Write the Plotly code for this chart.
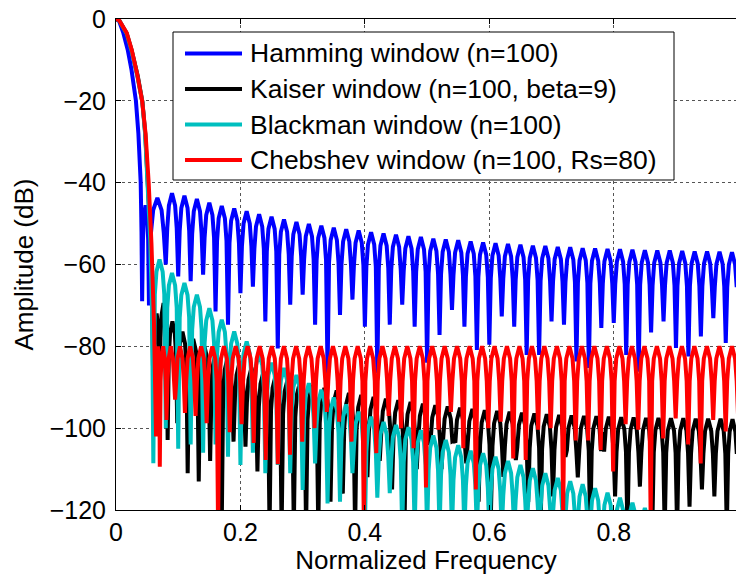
import plotly.graph_objects as go

# ---------------- data ----------------
# Hamming window (n=100)
hamming_main_f = [0, 0.005, 0.0118, 0.0188, 0.025, 0.032, 0.036, 0.0397, 0.041]
hamming_main_db = [0, -0.5, -3.4, -7.5, -12.5, -20, -28, -40, -52]
hamming_null_f = [0.042, 0.053, 0.08, 0.10, 0.12, 0.14, 0.16, 0.18, 0.20, 0.22, 0.24, 0.26,
                  0.28, 0.30, 0.32, 0.34, 0.36, 0.38, 0.40, 0.42, 0.44, 0.46, 0.48, 0.50,
                  0.52, 0.54, 0.56, 0.58, 0.60, 0.62, 0.64, 0.66, 0.68, 0.70, 0.72, 0.74,
                  0.76, 0.78, 0.80, 0.82, 0.84, 0.86, 0.88, 0.90, 0.92, 0.94, 0.96, 0.98, 1.0]
hamming_null_db = [-69, -70, -60, -62.9, -64.1, -62.5, -71.5, -74.7, -67, -65.4, -73.9, -80.5,
                   -69.8, -67.4, -74.7, -86.5, -72.3, -68.6, -75.2, -86.6, -74.7, -69.8, -75.2, -84,
                   -77.2, -71.1, -75.2, -80.9, -79.6, -72.7, -75.2, -82.1, -82.1, -73.9, -74.7, -83.7,
                   -85.3, -75.5, -74.3, -82.1, -86.2, -76.6, -73.9, -80.4, -82.5, -77.6, -73.1, -79.2, -62]
hamming_peak_db = [-45.5, -43.7, -42.6, -43.2, -44.0, -44.9, -45.7, -46.3, -47.0, -47.7, -48.3, -49.0,
                   -49.6, -50.1, -50.5, -51.0, -51.4, -51.7, -52.1, -52.4, -52.7, -53.1, -53.3, -53.7,
                   -53.9, -54.1, -54.4, -54.6, -54.8, -55.0, -55.2, -55.4, -55.5, -55.7, -55.8, -56.0,
                   -56.1, -56.2, -56.3, -56.4, -56.5, -56.6, -56.6, -56.7, -56.8, -56.8, -56.9, -57.0]

# Kaiser window (n=100, beta=9)
kaiser_main_f = [0, 0.005, 0.017, 0.025, 0.035, 0.0425, 0.047, 0.051, 0.055, 0.058]
kaiser_main_db = [0, -0.3, -3.5, -7.6, -14, -20.3, -28, -39, -52, -68]
kaiser_null_f = [0.0607, 0.0699, 0.083, 0.0984, 0.1152, 0.133, 0.1513, 0.1699, 0.1889, 0.2081,
                 0.2273, 0.2468, 0.2662, 0.2858, 0.3055, 0.3251, 0.3448, 0.3645, 0.3843, 0.4041,
                 0.4239, 0.4437, 0.4636, 0.4834, 0.5033, 0.5232, 0.543, 0.5629, 0.5828, 0.6027,
                 0.6226, 0.6426, 0.6625, 0.6824, 0.7023, 0.7223, 0.7422, 0.7622, 0.7821, 0.8021,
                 0.822, 0.842, 0.8619, 0.8819, 0.9018, 0.9218, 0.9417, 0.9617, 0.9817, 1.0]
kaiser_null_db = [-100, -95, -102.9, -98.8, -111, -113, -108, -125, -103.3, -104.5,
                  -110.6, -125, -125, -125, -125, -125, -118, -116, -125, -112,
                  -108, -115, -125, -110, -104, -110, -103, -108.6, -118, -120,
                  -111.9, -107.8, -118, -125, -116.7, -107, -112, -125, -101, -116.7,
                  -125, -114.3, -125, -125, -125, -119.2, -115, -116.7, -125, -98]
kaiser_peak_db = [-72, -69.4, -73.9, -76.4, -78.2, -80, -81.5, -82.8, -84, -85.2,
                  -86.2, -87.2, -88, -88.8, -89.5, -90.2, -90.8, -91.4, -91.9, -92.4,
                  -92.8, -93.2, -93.6, -94, -94.4, -94.7, -95, -95.3, -95.6, -95.8,
                  -96, -96.2, -96.4, -96.6, -96.8, -96.9, -97, -97.1, -97.2, -97.3,
                  -97.4, -97.5, -97.5, -97.6, -97.6, -97.7, -97.7, -97.7, -97.8]

# Blackman window (n=100)
blackman_main_f = [0, 0.005, 0.0172, 0.025, 0.035, 0.0425, 0.047, 0.051, 0.055, 0.058]
blackman_main_db = [0, -0.3, -3.6, -7.8, -14.5, -20.5, -28.5, -40, -54, -72]
blackman_null_f = [0.06, 0.08, 0.10, 0.12, 0.14, 0.16, 0.18, 0.20, 0.22, 0.24, 0.26, 0.28,
                   0.30, 0.32, 0.34, 0.36, 0.38, 0.40, 0.42, 0.44, 0.46, 0.48, 0.50, 0.52,
                   0.54, 0.56, 0.58, 0.60, 0.62, 0.64, 0.66, 0.68, 0.70, 0.72, 0.74, 0.76,
                   0.78, 0.80, 0.82, 0.84, 0.86, 0.88, 0.90]
blackman_null_db = [-108.6, -100, -105, -104, -106, -104, -107, -109, -106, -111, -109, -111,
                    -115.1, -108.6, -118.4, -118, -111, -125, -117, -115.9, -125, -125, -125, -125,
                    -125, -125, -125, -125, -125, -125, -125, -125, -125, -125, -125, -125,
                    -125, -125, -125, -125, -125, -125, -125]
blackman_peak_db = [-58.8, -62.1, -64.5, -67.4, -70.7, -73.5, -76.4, -78.8, -81.6, -84.0, -85.3, -87.0,
                    -89.0, -90.6, -92.5, -94.2, -96.0, -97.2, -98.5, -99.2, -99.8, -100.5, -101.8, -102.9,
                    -104.2, -105.5, -106.1, -107.0, -108.0, -109.0, -109.8, -111.0, -112.2, -113.0, -113.7, -114.7,
                    -115.8, -117.0, -118.2, -119.5, -121.5, -123.5]

# Chebyshev window (n=100, Rs=80)
cheb_main_f = [0, 0.005, 0.0172, 0.0252, 0.034, 0.042, 0.0475, 0.0525, 0.057, 0.061]
cheb_main_db = [0, -0.3, -3.4, -7.5, -13.5, -20, -28, -40, -55, -74]
cheb_null_f = [0.0644, 0.0704, 0.0811, 0.095, 0.1108, 0.1279, 0.1457, 0.1641, 0.1828, 0.2019,
               0.2213, 0.2406, 0.2601, 0.2797, 0.2993, 0.3191, 0.3388, 0.3586, 0.3785, 0.3984,
               0.4183, 0.4382, 0.4582, 0.4782, 0.4982, 0.5182, 0.5382, 0.5582, 0.5783, 0.5983,
               0.6183, 0.6384, 0.6585, 0.6785, 0.6986, 0.7187, 0.7388, 0.7588, 0.7789, 0.799,
               0.8191, 0.8392, 0.8593, 0.8794, 0.8995, 0.9196, 0.9397, 0.9598, 0.9799, 1.0]
cheb_null_db = [-102, -109.4, -98, -93, -96.3, -97, -98.8, -125, -101, -99,
                -103.6, -107.8, -108.8, -106.5, -103.3, -100, -96, -98.4, -103.3, -125,
                -106.1, -97, -100, -104.9, -114.5, -100.4, -96, -104.9, -115, -100,
                -98.4, -107.4, -107.8, -100.4, -100, -121, -103, -103, -105.3, -110.6,
                -99, -100.4, -122, -102.5, -97.6, -104, -108.6, -98, -100.8, -98]
cheb_peak_db = [-80, -80, -80, -80, -80, -80, -80, -80, -80, -80,
                -80, -80, -80, -80, -80, -80, -80, -80, -80, -80,
                -80, -80, -80, -80, -80, -80, -80, -80, -80, -80,
                -80, -80, -80, -80, -80, -80, -80, -80, -80, -80,
                -80, -80, -80, -80, -80, -80, -80, -80, -80]

series_names = ["Hamming window (n=100)", "Kaiser window (n=100, beta=9)",
                "Blackman window (n=100)", "Chebshev window (n=100, Rs=80)"]
x_tick_vals = [0, 0.2, 0.4, 0.6, 0.8, 1.0]
x_tick_text = ["0", "0.2", "0.4", "0.6", "0.8", "1"]
y_tick_vals = [-120, -100, -80, -60, -40, -20, 0]
y_tick_text = ["\u2212120", "\u2212100", "\u221280", "\u221260", "\u221240", "\u221220", "0"]

# ---------------- styling ----------------
COLORS = ["#0000FF", "#000000", "#00BFBF", "#FF0000"]
FONT = "Liberation Sans, Arial, Helvetica, sans-serif"
LW = 4
# drawing template for a side-lobe arch: (fraction across the lobe, dB below its peak)
LOBE_TEMPLATE = [(0.12, -8.5), (0.25, -3.0), (0.5, 0.0), (0.75, -3.0), (0.88, -8.5)]


def build_curve(main_f, main_db, null_f, null_db, peak_db):
    xs, ys = list(main_f), list(main_db)
    for i, pk in enumerate(peak_db):
        a, b = null_f[i], null_f[i + 1]
        xs.append(a)
        ys.append(null_db[i])
        for u, d in LOBE_TEMPLATE:
            xs.append(a + u * (b - a))
            ys.append(pk + d)
    xs.append(null_f[len(peak_db)])
    ys.append(null_db[len(peak_db)])
    return xs, ys


curves = [
    build_curve(hamming_main_f, hamming_main_db, hamming_null_f, hamming_null_db, hamming_peak_db),
    build_curve(kaiser_main_f, kaiser_main_db, kaiser_null_f, kaiser_null_db, kaiser_peak_db),
    build_curve(blackman_main_f, blackman_main_db, blackman_null_f, blackman_null_db, blackman_peak_db),
    build_curve(cheb_main_f, cheb_main_db, cheb_null_f, cheb_null_db, cheb_peak_db),
]

fig = go.Figure()
for (xs, ys), name, col in zip(curves, series_names, COLORS):
    fig.add_trace(go.Scatter(x=xs, y=ys, mode="lines", name=name,
                             line=dict(color=col, width=LW), showlegend=False,
                             hoverinfo="skip"))

# plot-area geometry (pixels)
L, R, T, B = 116, 0, 19, 65
W, H = 736, 575
PW, PH = W - L - R, H - T - B


def px_x(px):
    return (px - L) / PW


def px_y(py):
    return (H - B - py) / PH


# custom legend (MATLAB style: long line samples)
shapes = [dict(type="rect", xref="paper", yref="paper",
               x0=px_x(173), x1=px_x(674), y0=px_y(180), y1=px_y(32),
               line=dict(color="black", width=1), fillcolor="white", layer="above")]
annotations = []
row_y = [53.5, 89, 124.5, 160]
for name, col, ry in zip(series_names, COLORS, row_y):
    shapes.append(dict(type="line", xref="paper", yref="paper",
                       x0=px_x(185), x1=px_x(242), y0=px_y(ry), y1=px_y(ry),
                       line=dict(color=col, width=LW), layer="above"))
    annotations.append(dict(xref="paper", yref="paper", x=px_x(248), y=px_y(ry),
                            text=name, showarrow=False, xanchor="left", yanchor="middle",
                            font=dict(family=FONT, size=26.5, color="black")))

axis_common = dict(showgrid=True, gridcolor="#555555", gridwidth=1, griddash="dot",
                   showline=True, linecolor="black", linewidth=1,
                   ticks="inside", ticklen=5, tickcolor="black", tickwidth=1,
                   zeroline=False, tickfont=dict(family=FONT, size=25, color="black"))

fig.update_layout(
    width=W, height=H,
    margin=dict(l=L, r=R, t=T, b=B, pad=0),
    paper_bgcolor="white", plot_bgcolor="white",
    font=dict(family=FONT, size=25, color="black"),
    shapes=shapes, annotations=annotations,
    xaxis=dict(range=[0, 620 / 622.2], tickvals=x_tick_vals, ticktext=x_tick_text,
               mirror="ticks",
               title=dict(text="Normalized Frequency", font=dict(family=FONT, size=26), standoff=6),
               **axis_common),
    yaxis=dict(range=[-120, 0], tickvals=y_tick_vals, ticktext=y_tick_text,
               mirror=False, ticklabelstandoff=4,
               title=dict(text="Amplitude (dB)", font=dict(family=FONT, size=26), standoff=8),
               **axis_common),
)

fig.write_html("out.html")
